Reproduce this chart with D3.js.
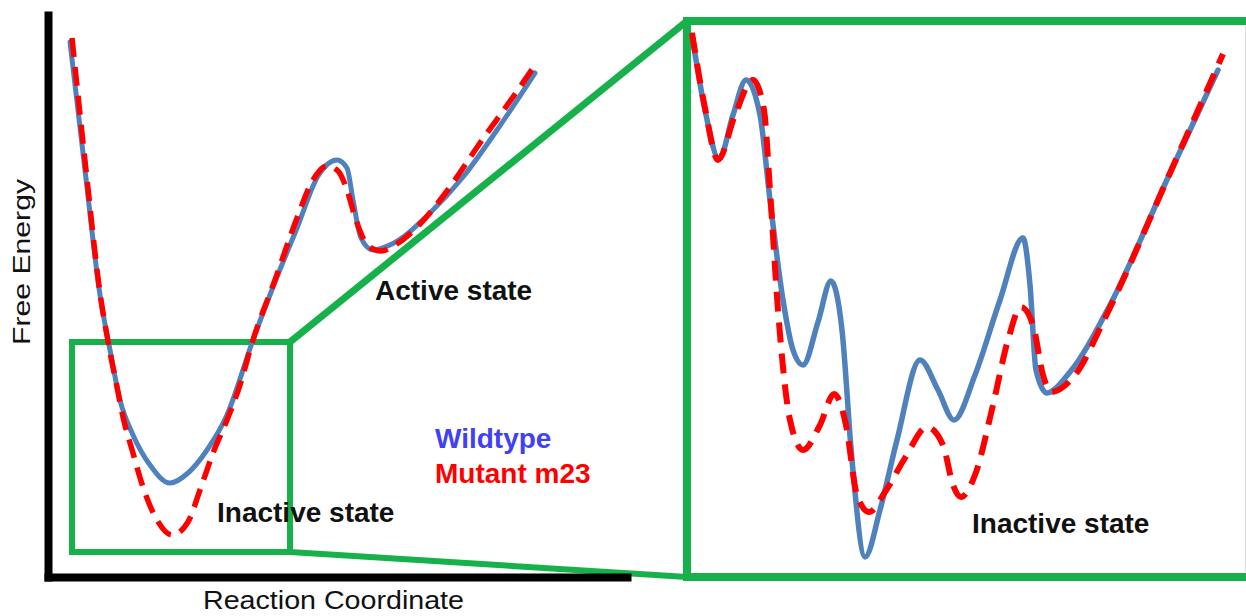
<!DOCTYPE html>
<html><head><meta charset="utf-8">
<script src="https://cdn.jsdelivr.net/npm/d3@7/dist/d3.min.js"></script>
<style>html,body{margin:0;padding:0;background:#fff;}svg{display:block;}</style>
</head><body>
<svg id="chart" width="1246" height="616"></svg>
<script>
// ---- Data: overview energy landscape (reaction coordinate, free energy; arbitrary units)
const overviewWildtype = [[2.2,53.5],[3.7,40.7],[5.2,28.2],[6.2,22.7],[7.2,17.7],[8.5,14.2],[10.2,11.2],[12.2,9.4],[14.0,10.4],[15.9,12.7],[17.9,16.2],[20.5,23.7],[22.7,29.5],[24.9,34.9],[27.0,40.1],[28.9,41.7],[29.9,40.9],[30.5,37.7],[31.3,33.9],[32.5,32.7],[34.4,33.3],[38.2,36.4],[41.5,40.0],[44.9,44.7],[48.7,50.4]];
const overviewMutant = [[2.4,53.9],[3.8,40.7],[5.2,28.4],[6.2,22.5],[6.9,19.0],[7.5,16.0],[8.5,12.4],[9.5,9.0],[10.9,5.7],[12.4,4.2],[14.0,5.5],[15.2,8.7],[16.5,12.4],[17.9,15.7],[19.2,19.2],[20.5,23.7],[22.7,29.7],[24.9,35.9],[26.5,39.7],[27.9,41.1],[29.0,40.6],[29.9,38.7],[30.7,36.0],[31.5,33.9],[32.5,32.8],[33.3,32.6],[34.7,33.2],[37.2,35.3],[39.9,38.6],[43.2,43.4],[46.5,48.0],[48.5,50.9]];
// ---- Data: zoomed inactive-state region
const zoomWildtype = [[0.5,54.2],[1.8,46.7],[3.2,41.8],[4.6,46.2],[5.9,49.7],[7.3,46.2],[8.3,37.7],[9.6,27.7],[10.6,22.7],[11.6,21.2],[13.1,25.5],[14.4,29.6],[15.5,24.7],[16.5,11.7],[17.8,2.0],[19.3,6.7],[21.0,13.7],[23.3,21.7],[25.1,18.7],[26.7,15.7],[28.8,20.2],[31.3,27.7],[33.6,33.9],[34.3,29.2],[34.9,20.7],[36.0,18.4],[38.3,20.5],[42.3,27.2],[48.3,40.4],[53.1,50.7]];
const zoomMutant = [[0.5,54.4],[1.8,46.9],[3.1,41.7],[4.8,46.2],[6.6,49.7],[7.7,46.7],[8.3,38.7],[9.1,26.7],[10.3,15.7],[11.6,12.7],[13.3,15.2],[14.7,18.3],[15.9,15.2],[17.0,8.2],[18.2,6.5],[19.8,8.5],[21.8,11.9],[24.0,15.0],[25.6,13.2],[26.6,9.2],[27.4,8.0],[28.8,10.2],[30.6,17.2],[32.1,23.7],[33.4,27.0],[34.6,25.2],[35.6,20.2],[36.4,18.5],[38.8,20.2],[41.8,25.9],[48.3,40.4],[53.6,52.3]];
// ---- Text labels
const seriesNames = ["Wildtype", "Mutant m23"];
const axisTitles = ["Reaction Coordinate", "Free Energy"];
const stateNames = ["Active state", "Inactive state"];

const svg = d3.select("#chart");
const GREEN = "#17b14b", BLUE = "#4f81bd", RED = "#ff0000";

// scales
const xL = d3.scaleLinear().domain([0, 57.9]).range([48, 627]);
const yL = d3.scaleLinear().domain([0, 56.2]).range([577, 15]);
const xR = d3.scaleLinear().domain([0, 56.3]).range([687, 1250]);
const yR = d3.scaleLinear().domain([0, 55.6]).range([577, 21]);
// region of the overview that is enlarged (in overview units)
const zoomBox = {x0: 2.4, x1: 24.2, y0: 2.5, y1: 23.5};

// ---- green zoom frame
const frame = svg.append("g").attr("fill", "none").attr("stroke", GREEN);
frame.append("rect")
  .attr("x", xL(zoomBox.x0)).attr("y", yL(zoomBox.y1))
  .attr("width", xL(zoomBox.x1) - xL(zoomBox.x0))
  .attr("height", yL(zoomBox.y0) - yL(zoomBox.y1))
  .attr("stroke-width", 6);
frame.append("line")
  .attr("x1", xL(zoomBox.x1)).attr("y1", yL(zoomBox.y1))
  .attr("x2", xR.range()[0]).attr("y2", yR.range()[1])
  .attr("stroke-width", 7);
frame.append("line")
  .attr("x1", xL(zoomBox.x1)).attr("y1", yL(zoomBox.y0))
  .attr("x2", xR.range()[0]).attr("y2", yR.range()[0])
  .attr("stroke-width", 6);
frame.append("rect")
  .attr("x", xR.range()[0]).attr("y", yR.range()[1])
  .attr("width", xR.range()[1] - xR.range()[0])
  .attr("height", yR.range()[0] - yR.range()[1])
  .attr("stroke-width", 8);
svg.append("line").attr("x1", 1245.5).attr("x2", 1245.5).attr("y1", 26).attr("y2", 572)
  .attr("stroke", "#dcdcdc").attr("stroke-width", 1);

// ---- axes
const xAxis = svg.append("g").attr("transform", `translate(0,${yL(0)})`)
  .call(d3.axisBottom(xL).ticks(0).tickSizeOuter(0));
const yAxis = svg.append("g").attr("transform", `translate(${xL(0)},0)`)
  .call(d3.axisLeft(yL).ticks(0).tickSizeOuter(0));
[xAxis, yAxis].forEach(a => a.select(".domain")
  .attr("stroke", "#000").attr("stroke-width", 8).attr("stroke-linecap", "square"));

// ---- curves
const lineL = d3.line().x(d => xL(d[0])).y(d => yL(d[1])).curve(d3.curveMonotoneX);
const lineR = d3.line().x(d => xR(d[0])).y(d => yR(d[1])).curve(d3.curveMonotoneX);
const curves = svg.append("g").attr("fill", "none").attr("stroke-linejoin", "round");
curves.append("path").attr("d", lineL(overviewWildtype)).attr("stroke", BLUE).attr("stroke-width", 5).attr("stroke-linecap", "round");
curves.append("path").attr("d", lineL(overviewMutant)).attr("stroke", RED).attr("stroke-width", 5.5).attr("stroke-dasharray", "19,10");
curves.append("path").attr("d", lineR(zoomWildtype)).attr("stroke", BLUE).attr("stroke-width", 5.5).attr("stroke-linecap", "round");
curves.append("path").attr("d", lineR(zoomMutant)).attr("stroke", RED).attr("stroke-width", 6).attr("stroke-dasharray", "20,11");

// ---- text
const font = "'Liberation Sans', Arial, Helvetica, sans-serif";
svg.append("text").attr("x", 203).attr("y", 609).attr("font-family", font).attr("font-size", 25)
  .attr("textLength", 261).attr("lengthAdjust", "spacingAndGlyphs").attr("fill", "#111").text(axisTitles[0]);
svg.append("text").attr("transform", "translate(30,345) rotate(-90)").attr("font-family", font).attr("font-size", 24)
  .attr("textLength", 166).attr("lengthAdjust", "spacingAndGlyphs").attr("fill", "#111").text(axisTitles[1]);

const bold = (x, y, txt, col) => svg.append("text").attr("x", x).attr("y", y)
  .attr("font-family", font).attr("font-size", 28).attr("font-weight", "bold").attr("fill", col).text(txt);
bold(375, 300, stateNames[0], "#111");
bold(217, 522, stateNames[1], "#111");
bold(972, 533, stateNames[1], "#111");
bold(435, 448, seriesNames[0], "#4040f5");
bold(435, 483, seriesNames[1], RED);
</script>
</body></html>
